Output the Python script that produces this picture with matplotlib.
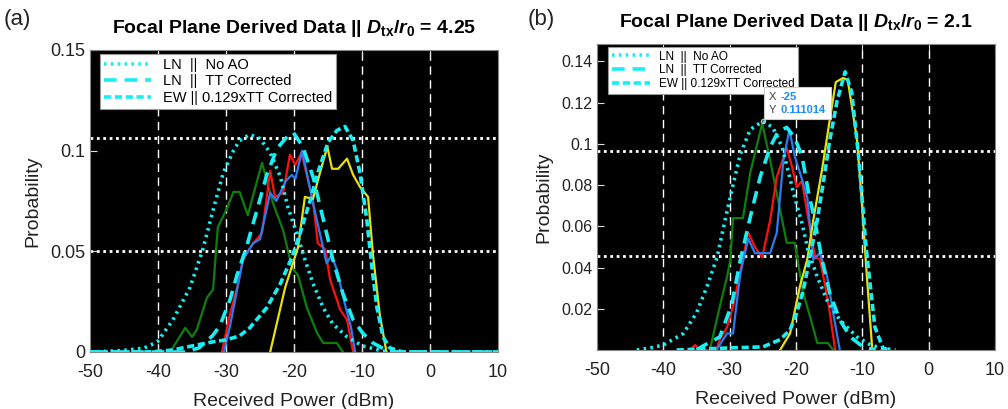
import matplotlib
matplotlib.use("Agg")
import matplotlib.pyplot as plt
from matplotlib.offsetbox import TextArea, HPacker, VPacker, AnnotationBbox

plt.rcParams['font.family'] = ['Liberation Sans', 'DejaVu Sans']
plt.rcParams['axes.unicode_minus'] = False
plt.rcParams['mathtext.fontset'] = 'custom'
plt.rcParams['mathtext.it'] = 'Liberation Sans:italic:bold'
plt.rcParams['mathtext.rm'] = 'Liberation Sans:bold'
plt.rcParams['mathtext.bf'] = 'Liberation Sans:bold'

# ---------------- panel (a) data, D/r0 = 4.25 ----------------
green_a_x = [-38.2, -36, -35, -34.3, -32.8, -31.9, -31.2, -29.9, -28.9, -28, -26.8, -24.7, -23.1,
             -21.6, -20.3, -19.4, -18.1, -16.6, -15.7, -13.7, -12.8]
green_a_y = [0, 0.012, 0.0075, 0.011, 0.027, 0.031, 0.062, 0.071, 0.0795, 0.0795, 0.068, 0.094, 0.074,
             0.0605, 0.042, 0.038, 0.022, 0.0094, 0.0045, 0.0045, 0]
red_a_x = [-30.6, -29.4, -28.2, -27.5, -26, -24.7, -23.5, -22.8, -21.6, -20.6, -19.8, -18.9, -17.2,
           -16.5, -15.4, -14.7, -13.2, -12.2, -11.3]
red_a_y = [0, 0.019, 0.034, 0.046, 0.054, 0.059, 0.090, 0.077, 0.079, 0.098, 0.093, 0.099, 0.075,
           0.054, 0.051, 0.036, 0.021, 0.016, 0]
blue_a_x = [-30.3, -29.4, -27.5, -26, -25, -23.5, -22.6, -21.2, -20.3, -19.8, -18.8, -17.2, -16.2,
            -15.2, -14.5, -13.7, -12.6, -11.6, -11]
blue_a_y = [0, 0.013, 0.046, 0.054, 0.056, 0.079, 0.075, 0.085, 0.088, 0.086, 0.100, 0.074, 0.059,
            0.044, 0.048, 0.041, 0.025, 0.012, 0]
yellow_a_x = [-23.5, -21.3, -19.4, -18.4, -17.2, -16.5, -15.1, -14.4, -13.5, -12.2, -11.3, -10.3,
              -9.1, -8.4, -7.4, -6.4]
yellow_a_y = [0, 0.032, 0.052, 0.077, 0.076, 0.085, 0.102, 0.091, 0.091, 0.096, 0.088, 0.082,
              0.077, 0.049, 0.019, 0]
noao_a_x = [-50, -45, -42, -40.1, -37.8, -35.3, -33.4, -31.9, -30.4, -28.9, -28, -26.5, -25, -23.5,
            -22, -20.9, -19.6, -18.4, -17.2, -15.7, -14.3, -12.2, -9.9, -7, -5, 10]
noao_a_y = [0, 0.0008, 0.002, 0.005, 0.016, 0.032, 0.051, 0.0705, 0.089, 0.100, 0.105, 0.108, 0.106,
            0.099, 0.087, 0.072, 0.059, 0.046, 0.034, 0.022, 0.014, 0.0075, 0.003, 0.0005, 0, 0]
tt_a_x = [-50, -36, -34, -32, -30.9, -29.4, -28.4, -27, -25.4, -24, -22.5, -21, -20.1, -18.7, -17.2,
          -15.7, -14.3, -12.8, -11.3, -9.9, -8.4, -6.5, -5, 10]
tt_a_y = [0, 0, 0.002, 0.008, 0.013, 0.026, 0.038, 0.052, 0.071, 0.088, 0.101, 0.107, 0.109, 0.102,
          0.087, 0.066, 0.046, 0.029, 0.016, 0.0094, 0.0045, 0.001, 0, 0]
ew_a_x = [-50, -42, -40, -37.8, -35, -32, -30, -28, -26.5, -24, -22, -20.3, -19.1, -17.6, -16.5, -15,
          -13.7, -12.5, -11.3, -10.3, -9.3, -8.5, -7.8, -6.9, -5.9, -4, 10]
ew_a_y = [0, 0, 0.0003, 0.001, 0.003, 0.005, 0.006, 0.008, 0.012, 0.022, 0.034, 0.047, 0.059, 0.0755,
          0.089, 0.104, 0.110, 0.112, 0.105, 0.089, 0.066, 0.041, 0.022, 0.0075, 0.002, 0, 0]
ref_levels_a = [0.05, 0.1065]

# ---------------- panel (b) data, D/r0 = 2.1 ----------------
green_b_x = [-33, -31.5, -30.4, -29.9, -29.5, -28, -26.9, -25.1, -23.9, -22.4, -21.4, -20.2, -18.9,
             -17.6, -16.8, -15.2, -14.4]
green_b_y = [0, 0.021, 0.0355, 0.0437, 0.064, 0.064, 0.086, 0.110, 0.092, 0.068, 0.052, 0.052, 0.0275,
             0.013, 0.0034, 0.0034, 0]
red_b_x = [-36, -35.2, -34.5, -32, -31.5, -30.4, -29.5, -28.4, -27.2, -26.2, -25.1, -23.9, -22.9,
           -21.4, -20.6, -19.9, -19.1, -18.2, -17.1, -16.4, -15.6, -14.9, -14.1]
red_b_y = [0, 0.0024, 0, 0, 0.005, 0.011, 0.021, 0.038, 0.057, 0.050, 0.045, 0.063, 0.084,
           0.098, 0.089, 0.079, 0.082, 0.0645, 0.045, 0.044, 0.031, 0.018, 0]
blue_b_x = [-32, -30.4, -29.5, -28.9, -28.4, -27.2, -26.2, -23.9, -22.9, -21.9, -21, -20.2, -19.4,
            -18.3, -17.4, -16.4, -15.3, -14.4, -13.4]
blue_b_y = [0, 0.008, 0.008, 0.024, 0.037, 0.054, 0.047, 0.047, 0.057, 0.092, 0.107, 0.094, 0.086,
            0.074, 0.044, 0.047, 0.0355, 0.018, 0]
yellow_b_x = [-22.4, -20.9, -19.4, -18.3, -17.4, -16.1, -14.9, -14, -12.9, -12.2, -10.8, -10.1, -9.9,
              -9.3, -8.5]
yellow_b_y = [0, 0.008, 0.031, 0.044, 0.063, 0.087, 0.112, 0.130, 0.132, 0.131, 0.102, 0.073, 0.063,
              0.035, 0]
noao_b_x = [-44, -42, -40, -37, -35, -33.4, -31.9, -30.7, -29.5, -28.4, -26.9, -25, -23.5, -22.1,
            -21.2, -20.2, -19.1, -18.2, -16.8, -15.3, -13.4, -10.8, -8.8, -7, -5]
noao_b_y = [0, 0.001, 0.0024, 0.008, 0.018, 0.031, 0.045, 0.063, 0.080, 0.095, 0.107, 0.111014, 0.108,
            0.0985, 0.087, 0.074, 0.0615, 0.0485, 0.0355, 0.024, 0.0146, 0.0063, 0.0025, 0.0008, 0]
tt_b_x = [-35, -34, -31.5, -29.7, -28.4, -26.9, -25.4, -23.9, -22.7, -21.4, -20.2, -19.1, -18.2,
          -17.1, -16.1, -14.9, -13.4, -11.8, -9.9, -8]
tt_b_y = [0, 0.002, 0.0063, 0.022, 0.0437, 0.0645, 0.084, 0.0985, 0.106, 0.108, 0.103, 0.094, 0.078,
          0.0615, 0.044, 0.0275, 0.0146, 0.0063, 0.0015, 0]
ew_b_x = [-38, -34, -30, -25, -22.4, -20.9, -19.9, -18.9, -17.9, -16.8, -15.9, -14.9, -13.8, -12.6,
          -11.6, -10.6, -10, -9.5, -8.8, -8.1, -6.9, -6]
ew_b_y = [0, 0.0005, 0.001, 0.0015, 0.005, 0.0097, 0.018, 0.029, 0.045, 0.063, 0.081, 0.102, 0.121,
          0.135, 0.125, 0.095, 0.072, 0.052, 0.031, 0.011, 0.001, 0]
ref_levels_b = [0.0456, 0.0966]
tip_x, tip_y = -25, 0.111014

x_ticks = [-50, -40, -30, -20, -10, 0, 10]
legend_labels = ['LN  ||  No AO', 'LN  ||  TT Corrected', 'EW || 0.129xTT Corrected']

CYAN = '#19eef2'
hist_colors = {'green': '#0e7f0e', 'red': '#ff1010', 'blue': '#2a7cf0', 'yellow': '#e8e010'}


def draw_panel(ax, hists, fits, refs, ylim, yticks, yticklabels, title, leg_size, leg_anchor):
    ax.set_facecolor('black')
    for xv in x_ticks[1:-1]:
        ax.axvline(xv, color='white', lw=1.0, ls=(0, (6, 4)), zorder=1)
    for yv in refs:
        ax.axhline(yv, color='white', lw=2.0, ls=(0, (1, 1.3)), zorder=1)

    for name, (xs, ys) in hists.items():
        ax.plot(xs, ys, color=hist_colors[name], lw=1.6, zorder=3)

    styles = [(0, (0.7, 1.2)), (0, (3.5, 2.2)), (0, (2.0, 1.0))]
    handles = []
    for (xs, ys), st in zip(fits, styles):
        h, = ax.plot(xs, ys, color=CYAN, lw=2.6, ls=st, zorder=4)
        handles.append(h)

    ax.set_xlim(-50, 10)
    ax.set_ylim(*ylim)
    ax.set_xticks(x_ticks)
    ax.set_yticks(yticks)
    ax.set_yticklabels(yticklabels)
    ax.tick_params(direction='in', colors='#dddddd', labelcolor='#222222', labelsize=13,
                   length=5, top=True, right=False)
    ax.tick_params(axis='x', pad=9)
    for sp in ax.spines.values():
        sp.set_color('#888888')
    ax.set_xlabel('Received Power (dBm)', fontsize=14, color='#222222', labelpad=8)
    ax.set_ylabel('Probability', fontsize=14, color='#222222', labelpad=6)
    ax.set_title(title, fontsize=14, fontweight='bold', pad=12)

    leg = ax.legend(handles, legend_labels, loc='upper left', bbox_to_anchor=leg_anchor,
                    borderaxespad=0, fontsize=leg_size, handlelength=3.2, labelspacing=0.15,
                    borderpad=0.3, handletextpad=0.8, fancybox=False, framealpha=1,
                    edgecolor='#999999')
    leg.get_frame().set_linewidth(0.8)
    leg.set_zorder(10)


fig = plt.figure(figsize=(10.08, 4.09), dpi=100)
ax_a = fig.add_axes([0.0893, 0.1394, 0.4047, 0.7384])
ax_b = fig.add_axes([0.5923, 0.1443, 0.3948, 0.7482])

draw_panel(ax_a,
           {'green': (green_a_x, green_a_y), 'red': (red_a_x, red_a_y),
            'blue': (blue_a_x, blue_a_y), 'yellow': (yellow_a_x, yellow_a_y)},
           [(noao_a_x, noao_a_y), (tt_a_x, tt_a_y), (ew_a_x, ew_a_y)],
           ref_levels_a, (0, 0.15), [0, 0.05, 0.1, 0.15], ['0', '0.05', '0.1', '0.15'],
           r'Focal Plane Derived Data || $D_{\rm tx}/r_{\rm 0}$ = 4.25', 10.5, (0.024, 0.987))

draw_panel(ax_b,
           {'green': (green_b_x, green_b_y), 'red': (red_b_x, red_b_y),
            'blue': (blue_b_x, blue_b_y), 'yellow': (yellow_b_x, yellow_b_y)},
           [(noao_b_x, noao_b_y), (tt_b_x, tt_b_y), (ew_b_x, ew_b_y)],
           ref_levels_b, (0, 0.1485), [0.02, 0.04, 0.06, 0.08, 0.1, 0.12, 0.14],
           ['0.02', '0.04', '0.06', '0.08', '0.1', '0.12', '0.14'],
           r'Focal Plane Derived Data || $D_{\rm tx}/r_{\rm 0}$ = 2.1', 8.5, (0.028, 0.99))
ax_b.tick_params(axis='y', labelsize=11.5)

# data tip on panel (b)
ax_b.plot([tip_x], [tip_y], 'o', ms=3, mfc='none', mec='#bbbbbb', zorder=6)
blue_txt = dict(color='#1a8cff', fontsize=8, fontweight='bold')
gray_txt = dict(color='#444444', fontsize=8)
row_x = HPacker(children=[TextArea('X', textprops=gray_txt), TextArea(str(tip_x), textprops=blue_txt)],
                pad=0, sep=3)
row_y = HPacker(children=[TextArea('Y', textprops=gray_txt), TextArea(f'{tip_y:.6f}', textprops=blue_txt)],
                pad=0, sep=3)
tip_box = VPacker(children=[row_x, row_y], pad=0, sep=2)
ab = AnnotationBbox(tip_box, (tip_x, tip_y), xybox=(25, 13), boxcoords='offset points',
                    box_alignment=(0.5, 0.5), frameon=True, pad=0.35,
                    bboxprops=dict(facecolor='white', edgecolor='#cccccc', lw=0.8))
ab.set_zorder(11)
ax_b.add_artist(ab)

fig.text(0.004, 0.94, '(a)', fontsize=16, color='#222222')
fig.text(0.523, 0.94, '(b)', fontsize=16, color='#222222')

fig.savefig('out.png', dpi=100)
